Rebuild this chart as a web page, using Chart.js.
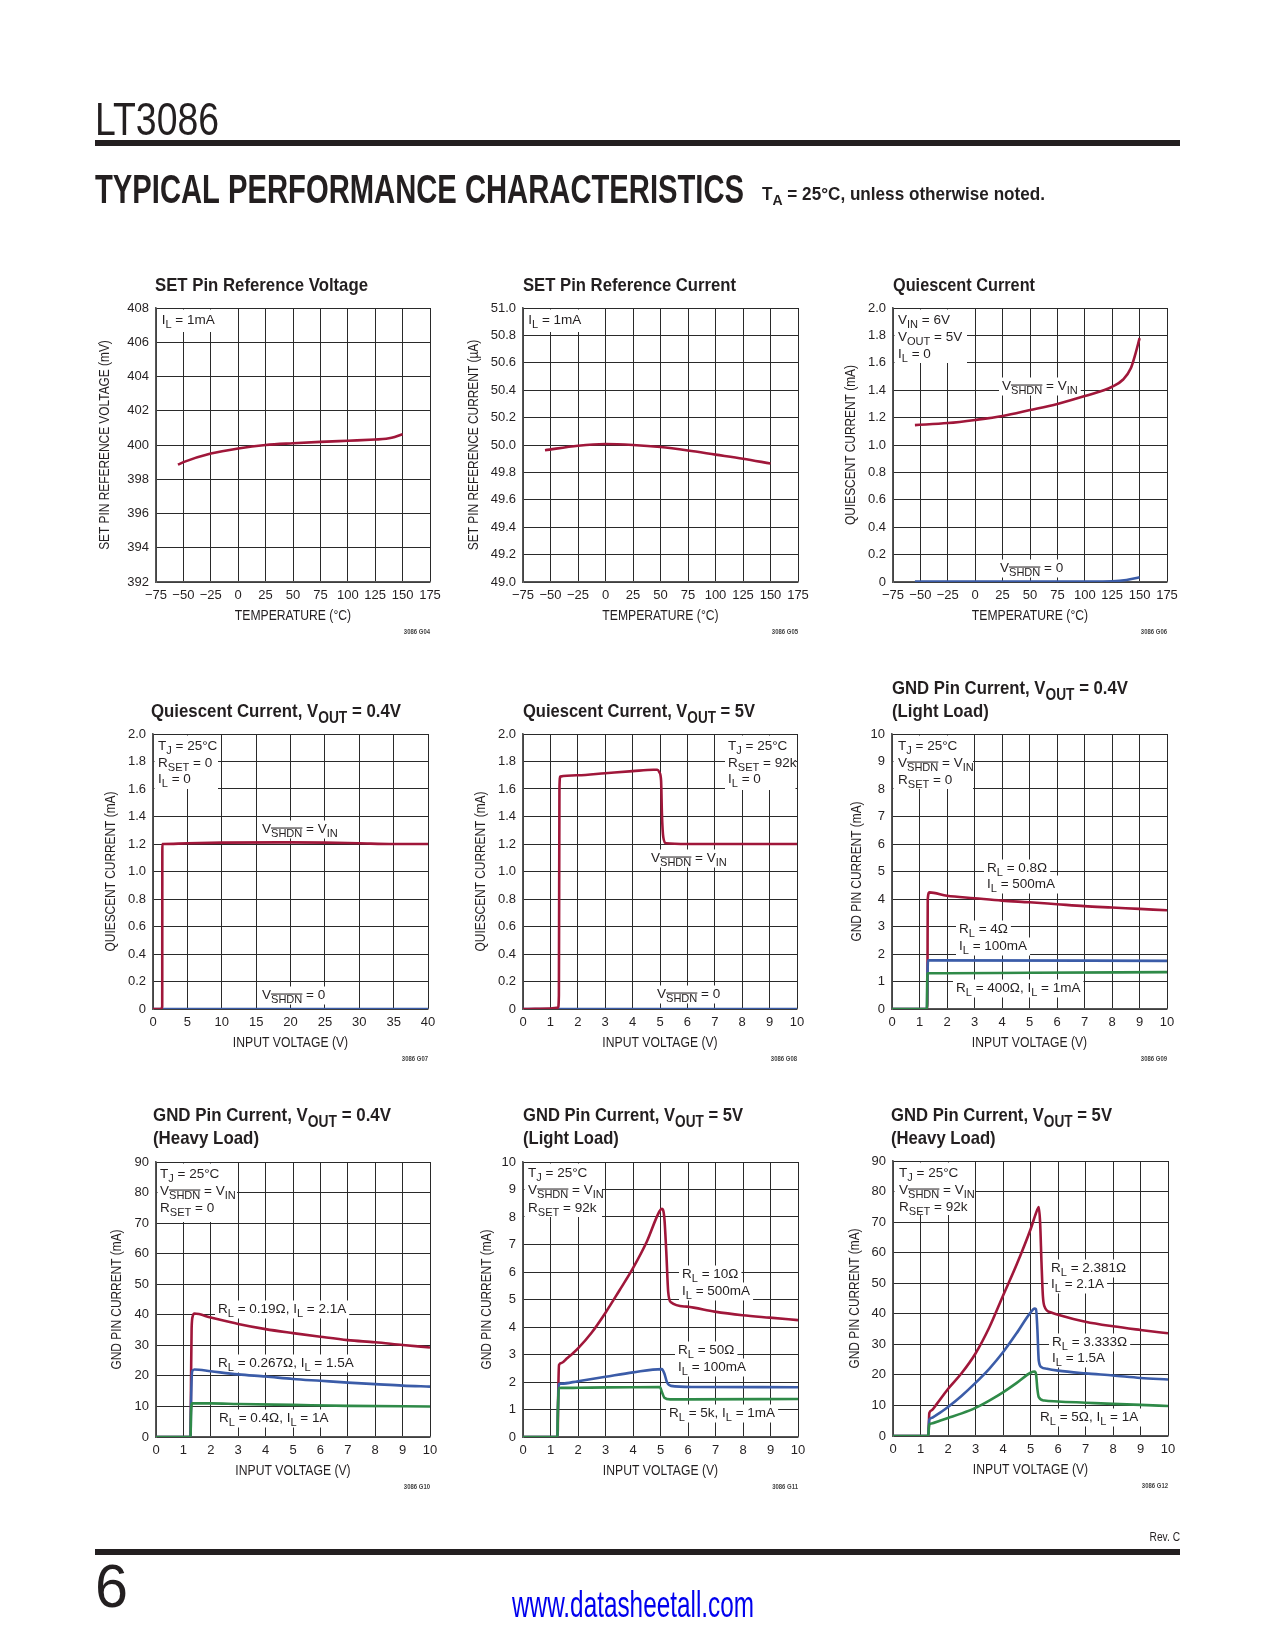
<!DOCTYPE html>
<html>
<head>
<meta charset="utf-8">
<script src="https://cdn.jsdelivr.net/npm/chart.js@4.4.0/dist/chart.umd.min.js"></script>
<style>
  html, body { margin: 0; padding: 0; background: #fff; }
  #wrap { position: relative; width: 1275px; height: 1650px; overflow: hidden; }
  canvas { position: absolute; }
</style>
</head>
<body>
<div id="wrap"><canvas id="page" width="1275" height="1650" style="left:0;top:0"></canvas></div>
<script>
// ---- tick values ----
const tempTicks = [-75, -50, -25, 0, 25, 50, 75, 100, 125, 150, 175];
const vin40Ticks = [0, 5, 10, 15, 20, 25, 30, 35, 40];
const vin10Ticks = [0, 1, 2, 3, 4, 5, 6, 7, 8, 9, 10];
const vrefTicks = [392, 394, 396, 398, 400, 402, 404, 406, 408];
const isetTicks = [49.0, 49.2, 49.4, 49.6, 49.8, 50.0, 50.2, 50.4, 50.6, 50.8, 51.0];
const iqTicks = [0, 0.2, 0.4, 0.6, 0.8, 1.0, 1.2, 1.4, 1.6, 1.8, 2.0];
const gnd10Ticks = [0, 1, 2, 3, 4, 5, 6, 7, 8, 9, 10];
const gnd90Ticks = [0, 10, 20, 30, 40, 50, 60, 70, 80, 90];

// ---- G04 SET pin reference voltage ----
const g04Temp = [-55, -50, -25, 0, 25, 50, 75, 100, 125, 135, 140, 150];
const g04Vref = [398.85, 399.0, 399.5, 399.8, 400.0, 400.1, 400.18, 400.25, 400.32, 400.36, 400.42, 400.63];

// ---- G05 SET pin reference current ----
const g05Temp = [-55, -25, 0, 25, 50, 75, 100, 125, 150];
const g05Iset = [49.962, 49.995, 50.007, 50.0, 49.985, 49.96, 49.93, 49.9, 49.865];

// ---- G06 quiescent current vs temperature ----
const g06TempOn = [-55, -25, 0, 25, 50, 75, 100, 125, 135, 142, 146, 150];
const g06IqOn = [1.145, 1.16, 1.183, 1.212, 1.255, 1.30, 1.357, 1.425, 1.478, 1.56, 1.66, 1.78];
const g06TempOff = [-55, 0, 50, 100, 125, 138, 150];
const g06IqOff = [0.003, 0.003, 0.003, 0.004, 0.006, 0.015, 0.035];

// ---- G07 quiescent current, VOUT = 0.4V ----
const g07VinOn = [0, 1.2, 1.34, 1.36, 1.5, 5, 10, 20, 25, 30, 35, 40];
const g07IqOn = [0, 0, 0.02, 1.2, 1.2, 1.205, 1.21, 1.212, 1.21, 1.205, 1.2, 1.2];
const g07VinOff = [0, 40];
const g07IqOff = [0, 0];

// ---- G08 quiescent current, VOUT = 5V ----
const g08VinOn = [0, 1.0, 1.28, 1.31, 1.33, 1.36, 2, 3, 4, 4.76, 4.9, 4.98, 5.04, 5.07, 5.12, 5.22, 6, 8, 10];
const g08IqOn = [0, 0.003, 0.01, 0.1, 1.6, 1.69, 1.70, 1.715, 1.73, 1.74, 1.74, 1.72, 1.66, 1.42, 1.25, 1.205, 1.2, 1.2, 1.2];
const g08VinOff = [0, 10];
const g08IqOff = [0, 0];

// ---- G09 GND pin current, VOUT = 0.4V, light load ----
const g09Vin500 = [0, 1.28, 1.29, 1.30, 1.36, 2, 3, 4, 5, 6, 7, 8, 9, 10];
const g09I500 = [0, 0, 1.0, 4.0, 4.24, 4.12, 4.03, 3.94, 3.88, 3.81, 3.74, 3.69, 3.64, 3.59];
const g09Vin100 = [0, 1.27, 1.29, 1.31, 1.4, 10];
const g09I100 = [0, 0, 1.2, 1.77, 1.77, 1.75];
const g09Vin1 = [0, 1.27, 1.28, 1.30, 2, 5, 10];
const g09I1 = [0, 0, 1.0, 1.3, 1.3, 1.32, 1.34];

// ---- G10 GND pin current, VOUT = 0.4V, heavy load ----
const g10Vin21 = [0, 1.26, 1.28, 1.30, 1.34, 1.4, 2, 3, 4, 5, 6, 7, 8, 9, 10];
const g10I21 = [0, 0, 20, 35.5, 39.5, 40.4, 39.1, 37, 35.3, 34, 32.8, 31.7, 31.0, 30.1, 29.3];
const g10Vin15 = [0, 1.26, 1.28, 1.32, 1.4, 2, 3, 4, 5, 6, 7, 8, 9, 10];
const g10I15 = [0, 0, 12, 21.5, 22.1, 21.5, 20.5, 19.8, 19.0, 18.4, 17.8, 17.3, 16.8, 16.5];
const g10Vin10 = [0, 1.26, 1.28, 1.32, 2, 3, 5, 7, 10];
const g10I10 = [0, 0, 8, 11, 11, 10.8, 10.5, 10.2, 10];

// ---- G11 GND pin current, VOUT = 5V, light load ----
const g11Vin500 = [0, 1.26, 1.28, 1.31, 1.4, 1.6, 1.8, 2.0, 2.5, 3.0, 3.5, 4.0, 4.5, 4.96, 5.05, 5.14, 5.21, 5.28, 5.38, 5.96, 6.97, 7.98, 8.97, 10];
const g11I500 = [0, 0, 1.5, 2.62, 2.69, 2.86, 3.03, 3.22, 3.8, 4.52, 5.32, 6.14, 7.1, 8.2, 8.3, 7.96, 6.74, 5.28, 4.9, 4.74, 4.56, 4.43, 4.34, 4.25];
const g11Vin100 = [0, 1.25, 1.27, 1.3, 1.4, 2, 3, 4, 5.05, 5.14, 5.24, 5.38, 6.2, 10];
const g11I100 = [0, 0, 1.0, 1.92, 1.94, 2.03, 2.19, 2.35, 2.47, 2.31, 1.98, 1.86, 1.82, 1.81];
const g11Vin1 = [0, 1.25, 1.27, 1.3, 1.4, 2, 4.98, 5.05, 5.14, 5.35, 6, 10];
const g11I1 = [0, 0, 1.0, 1.78, 1.785, 1.79, 1.82, 1.64, 1.43, 1.37, 1.37, 1.38];

// ---- G12 GND pin current, VOUT = 5V, heavy load ----
const g12Vin21 = [0, 1.28, 1.30, 1.32, 1.4, 1.6, 1.8, 2, 2.5, 3, 3.5, 4, 4.5, 5, 5.25, 5.3, 5.35, 5.4, 5.45, 5.5, 5.75, 6, 7, 8, 9, 10];
const g12I21 = [0, 0, 3, 7.5, 8.4, 10.6, 13.0, 15.4, 20.6, 27.0, 35.5, 45.9, 56.2, 67.6, 74.1, 74.9, 69.8, 56.7, 45.9, 42.6, 40.4, 39.7, 37.4, 35.9, 34.7, 33.6];
const g12Vin15 = [0, 1.28, 1.30, 1.32, 1.4, 1.6, 1.8, 2, 2.5, 3, 3.5, 4, 4.5, 5, 5.15, 5.2, 5.25, 5.3, 5.4, 5.6, 6, 7, 8, 9, 10];
const g12I15 = [0, 0, 3, 5.4, 5.9, 7.0, 8.2, 9.5, 13.2, 17.4, 22.0, 27.4, 33.7, 40.4, 41.7, 41.5, 35, 24.7, 22.5, 22, 21.4, 20.5, 19.8, 19, 18.5];
const g12Vin10 = [0, 1.28, 1.30, 1.32, 1.4, 1.7, 2, 2.5, 3, 3.5, 4, 4.5, 5, 5.15, 5.2, 5.25, 5.3, 5.5, 6, 7, 8, 9, 10];
const g12I10 = [0, 0, 2, 3.8, 4.1, 5.0, 5.9, 7.4, 9.2, 11.6, 14.3, 17.4, 20.7, 21.1, 20.3, 15.4, 12.7, 11.6, 11.3, 10.9, 10.5, 10.2, 9.8];

const INK = '#231f20';
const RED = '#a0173a', BLUE = '#3b5ca8', GREEN = '#2f8a48';
const SANS = '"Liberation Sans", Arial, sans-serif';
const ANN = { size: 13.5, family: SANS, weight: 'normal' };
const TTL = { size: 19, family: SANS, weight: 'bold' };
const AXT = { size: 14.5, family: SANS, weight: 'normal' };
const PADL = 70, PADT = 70, PADR = 30, PADB = 65;

// rich text: _{..} = subscript, _{!..} = subscript with overline
function parseRich(s) {
  const segs = [], re = /_\{(!?)([^}]*)\}/g;
  let last = 0, m;
  while ((m = re.exec(s))) {
    if (m.index > last) segs.push({ t: s.slice(last, m.index) });
    segs.push({ t: m[2], sub: true, bar: m[1] === '!' });
    last = re.lastIndex;
  }
  if (last < s.length) segs.push({ t: s.slice(last) });
  return segs;
}
function segFont(f, g) {
  return `${f.weight} ${g.sub ? f.size * 0.82 : f.size}px ${f.family}`;
}
function richWidth(ctx, s, f) {
  let w = 0;
  parseRich(s).forEach(g => { ctx.font = segFont(f, g); w += ctx.measureText(g.t).width; });
  return w;
}
function drawRich(ctx, s, x, y, f, sx) {
  ctx.save();
  ctx.translate(x, y);
  ctx.scale(sx || 1, 1);
  ctx.textAlign = 'left';
  ctx.textBaseline = 'alphabetic';
  let cx = 0;
  parseRich(s).forEach(g => {
    ctx.font = segFont(f, g);
    const w = ctx.measureText(g.t).width;
    const yy = g.sub ? f.size * 0.3 : 0;
    ctx.fillText(g.t, cx, yy);
    if (g.bar) ctx.fillRect(cx, yy - f.size * 0.82 * 0.86, w, Math.max(1, f.size * 0.075));
    cx += w;
  });
  ctx.restore();
}

function pts(xs, ys) { return xs.map((x, i) => ({ x: x, y: ys[i] })); }
function fmt(kind) {
  return v => {
    if (kind === 'minus') return v < 0 ? '\u2212' + (-v) : String(v);
    if (kind === 'fix1') return v.toFixed(1);
    if (kind === 'fix1z') return v === 0 ? '0' : v.toFixed(1);
    return String(v);
  };
}

const defs = [
  { code: '3086 G04', box: [156, 308, 430, 582],
    x: { min: -75, max: 175, ticks: tempTicks, fmt: 'minus', title: 'TEMPERATURE (°C)' },
    y: { min: 392, max: 408, ticks: vrefTicks, fmt: 'int', title: 'SET PIN REFERENCE VOLTAGE (mV)', gap: 51 },
    title: { x: 155, w: 213, lines: ['SET Pin Reference Voltage'], y: [291] },
    note: { lines: ['I_{L} = 1mA'], x: 161.7, y: [324], right: 215, bottom: 332 },
    labels: [],
    series: [[g04Temp, g04Vref, RED]] },
  { code: '3086 G05', box: [523, 308, 798, 582],
    x: { min: -75, max: 175, ticks: tempTicks, fmt: 'minus', title: 'TEMPERATURE (°C)' },
    y: { min: 49, max: 51, ticks: isetTicks, fmt: 'fix1', title: 'SET PIN REFERENCE CURRENT (µA)', gap: 49 },
    title: { x: 523, w: 213, lines: ['SET Pin Reference Current'], y: [291] },
    note: { lines: ['I_{L} = 1mA'], x: 528.3, y: [324], right: 580, bottom: 332 },
    labels: [],
    series: [[g05Temp, g05Iset, RED]] },
  { code: '3086 G06', box: [893, 308, 1167, 582],
    x: { min: -75, max: 175, ticks: tempTicks, fmt: 'minus', title: 'TEMPERATURE (°C)' },
    y: { min: 0, max: 2, ticks: iqTicks, fmt: 'fix1z', title: 'QUIESCENT CURRENT (mA)', gap: 42 },
    title: { x: 893, w: 142, lines: ['Quiescent Current'], y: [291] },
    note: { lines: ['V_{IN} = 6V', 'V_{OUT} = 5V', 'I_{L} = 0'], x: 898, y: [324, 341, 358], right: 967, bottom: 363 },
    labels: [{ lines: ['V_{!SHDN} = V_{IN}'], x: 1002, y: [390] }, { lines: ['V_{!SHDN} = 0'], x: 1000, y: [572] }],
    series: [[g06TempOn, g06IqOn, RED], [g06TempOff, g06IqOff, BLUE]] },
  { code: '3086 G07', box: [153, 734, 428, 1009],
    x: { min: 0, max: 40, ticks: vin40Ticks, fmt: 'int', title: 'INPUT VOLTAGE (V)' },
    y: { min: 0, max: 2, ticks: iqTicks, fmt: 'fix1z', title: 'QUIESCENT CURRENT (mA)', gap: 42 },
    title: { x: 151, w: 250, lines: ['Quiescent Current, V_{OUT} = 0.4V'], y: [717] },
    note: { lines: ['T_{J} = 25°C', 'R_{SET} = 0', 'I_{L} = 0'], x: 158, y: [750, 767, 783], right: 218, bottom: 789 },
    labels: [{ lines: ['V_{!SHDN} = V_{IN}'], x: 262, y: [833] }, { lines: ['V_{!SHDN} = 0'], x: 262, y: [999] }],
    series: [[g07VinOn, g07IqOn, RED], [g07VinOff, g07IqOff, BLUE]] },
  { code: '3086 G08', box: [523, 734, 797, 1009],
    x: { min: 0, max: 10, ticks: vin10Ticks, fmt: 'int', title: 'INPUT VOLTAGE (V)' },
    y: { min: 0, max: 2, ticks: iqTicks, fmt: 'fix1z', title: 'QUIESCENT CURRENT (mA)', gap: 42 },
    title: { x: 523, w: 232, lines: ['Quiescent Current, V_{OUT} = 5V'], y: [717] },
    note: { side: 'right', lines: ['T_{J} = 25°C', 'R_{SET} = 92k', 'I_{L} = 0'], x: 728, y: [750, 767, 783], left: 725, bottom: 790 },
    labels: [{ lines: ['V_{!SHDN} = V_{IN}'], x: 651, y: [862] }, { lines: ['V_{!SHDN} = 0'], x: 657, y: [998] }],
    series: [[g08VinOn, g08IqOn, RED], [g08VinOff, g08IqOff, BLUE]] },
  { code: '3086 G09', box: [892, 734, 1167, 1009],
    x: { min: 0, max: 10, ticks: vin10Ticks, fmt: 'int', title: 'INPUT VOLTAGE (V)' },
    y: { min: 0, max: 10, ticks: gnd10Ticks, fmt: 'int', title: 'GND PIN CURRENT (mA)', gap: 35 },
    title: { x: 892, w: 236, lines: ['GND Pin Current, V_{OUT} = 0.4V', '(Light Load)'], y: [694, 717] },
    note: { lines: ['T_{J} = 25°C', 'V_{!SHDN} = V_{IN}', 'R_{SET} = 0'], x: 898, y: [750, 767, 784], right: 973, bottom: 789 },
    labels: [{ lines: ['R_{L} = 0.8Ω', 'I_{L} = 500mA'], x: 987, y: [872, 888] },
             { lines: ['R_{L} = 4Ω', 'I_{L} = 100mA'], x: 959, y: [933, 950] },
             { lines: ['R_{L} = 400Ω, I_{L} = 1mA'], x: 956, y: [992] }],
    series: [[g09Vin1, g09I1, GREEN], [g09Vin100, g09I100, BLUE], [g09Vin500, g09I500, RED]] },
  { code: '3086 G10', box: [156, 1162, 430, 1437],
    x: { min: 0, max: 10, ticks: vin10Ticks, fmt: 'int', title: 'INPUT VOLTAGE (V)' },
    y: { min: 0, max: 90, ticks: gnd90Ticks, fmt: 'int', title: 'GND PIN CURRENT (mA)', gap: 39 },
    title: { x: 153, w: 238, lines: ['GND Pin Current, V_{OUT} = 0.4V', '(Heavy Load)'], y: [1121, 1144] },
    note: { lines: ['T_{J} = 25°C', 'V_{!SHDN} = V_{IN}', 'R_{SET} = 0'], x: 160, y: [1178, 1195, 1212], right: 237, bottom: 1222 },
    labels: [{ lines: ['R_{L} = 0.19Ω, I_{L} = 2.1A'], x: 218, y: [1313] },
             { lines: ['R_{L} = 0.267Ω, I_{L} = 1.5A'], x: 218, y: [1367] },
             { lines: ['R_{L} = 0.4Ω, I_{L} = 1A'], x: 219, y: [1422] }],
    series: [[g10Vin10, g10I10, GREEN], [g10Vin15, g10I15, BLUE], [g10Vin21, g10I21, RED]] },
  { code: '3086 G11', box: [523, 1162, 798, 1437],
    x: { min: 0, max: 10, ticks: vin10Ticks, fmt: 'int', title: 'INPUT VOLTAGE (V)' },
    y: { min: 0, max: 10, ticks: gnd10Ticks, fmt: 'int', title: 'GND PIN CURRENT (mA)', gap: 36 },
    title: { x: 523, w: 220, lines: ['GND Pin Current, V_{OUT} = 5V', '(Light Load)'], y: [1121, 1144] },
    note: { lines: ['T_{J} = 25°C', 'V_{!SHDN} = V_{IN}', 'R_{SET} = 92k'], x: 528, y: [1177, 1194, 1212], right: 602, bottom: 1217 },
    labels: [{ lines: ['R_{L} = 10Ω', 'I_{L} = 500mA'], x: 682, y: [1278, 1295] },
             { lines: ['R_{L} = 50Ω', 'I_{L} = 100mA'], x: 678, y: [1354, 1371] },
             { lines: ['R_{L} = 5k, I_{L} = 1mA'], x: 669, y: [1417] }],
    series: [[g11Vin1, g11I1, GREEN], [g11Vin100, g11I100, BLUE], [g11Vin500, g11I500, RED]] },
  { code: '3086 G12', box: [893, 1161, 1168, 1436],
    x: { min: 0, max: 10, ticks: vin10Ticks, fmt: 'int', title: 'INPUT VOLTAGE (V)' },
    y: { min: 0, max: 90, ticks: gnd90Ticks, fmt: 'int', title: 'GND PIN CURRENT (mA)', gap: 38 },
    title: { x: 891, w: 221, lines: ['GND Pin Current, V_{OUT} = 5V', '(Heavy Load)'], y: [1121, 1144] },
    note: { lines: ['T_{J} = 25°C', 'V_{!SHDN} = V_{IN}', 'R_{SET} = 92k'], x: 899, y: [1177, 1194, 1211], right: 975, bottom: 1215 },
    labels: [{ lines: ['R_{L} = 2.381Ω', 'I_{L} = 2.1A'], x: 1051, y: [1272, 1288] },
             { lines: ['R_{L} = 3.333Ω', 'I_{L} = 1.5A'], x: 1052, y: [1346, 1362] },
             { lines: ['R_{L} = 5Ω, I_{L} = 1A'], x: 1040, y: [1421] }],
    series: [[g12Vin10, g12I10, GREEN], [g12Vin15, g12I15, BLUE], [g12Vin21, g12I21, RED]] }
];

function decor(d) {
  const ox = d.box[0] - PADL, oy = d.box[1] - PADT;
  return {
    id: 'decor',
    beforeDatasetsDraw(chart) {
      const ctx = chart.ctx, a = chart.chartArea;
      ctx.save();
      ctx.fillStyle = '#fff';
      const n = d.note;
      const L = n.side === 'right' ? n.left - ox : a.left + 1.5;
      const R = n.side === 'right' ? a.right - 1.5 : n.right - ox;
      ctx.fillRect(L, a.top + 1.5, R - L, n.bottom - oy - a.top - 1.5);
      d.labels.forEach(lb => lb.lines.forEach((t, i) => {
        const w = richWidth(ctx, t, ANN);
        ctx.fillRect(lb.x - ox - 3, lb.y[i] - oy - 12.5, w + 6, 18);
      }));
      ctx.restore();
    },
    afterDraw(chart) {
      const ctx = chart.ctx, a = chart.chartArea;
      ctx.save();
      ctx.fillStyle = INK;
      // chart title, squeezed to the condensed width of the original
      const sx = d.title.w / richWidth(ctx, d.title.lines[0], TTL);
      d.title.lines.forEach((t, i) => drawRich(ctx, t, d.title.x - ox, d.title.y[i] - oy, TTL, sx));
      d.note.lines.forEach((t, i) => drawRich(ctx, t, d.note.x - ox, d.note.y[i] - oy, ANN));
      d.labels.forEach(lb => lb.lines.forEach((t, i) => drawRich(ctx, t, lb.x - ox, lb.y[i] - oy, ANN)));
      // axis titles (condensed)
      ctx.font = `${AXT.size}px ${AXT.family}`;
      ctx.textAlign = 'center';
      ctx.textBaseline = 'middle';
      ctx.save();
      ctx.translate((a.left + a.right) / 2, a.bottom + 34);
      ctx.scale(0.84, 1);
      ctx.fillText(d.x.title, 0, 0);
      ctx.restore();
      ctx.save();
      ctx.translate(a.left - d.y.gap, (a.top + a.bottom) / 2);
      ctx.rotate(-Math.PI / 2);
      ctx.scale(0.82, 1);
      ctx.fillText(d.y.title, 0, 0);
      ctx.restore();
      ctx.font = 'bold 7px ' + SANS;
      ctx.textAlign = 'right';
      ctx.textBaseline = 'alphabetic';
      ctx.fillStyle = '#444';
      ctx.save();
      ctx.translate(d.box[2] - ox, d.box[3] + 52 - oy);
      ctx.scale(0.85, 1);
      ctx.fillText(d.code, 0, 0);
      ctx.restore();
      ctx.restore();
    }
  };
}

function axis(ax, isX) {
  return {
    type: 'linear', min: ax.min, max: ax.max,
    afterBuildTicks: s => { s.ticks = ax.ticks.map(v => ({ value: v })); },
    afterFit: s => { if (isX) s.height = 55; else s.width = PADL; },
    ticks: { autoSkip: false, maxRotation: 0, padding: isX ? 6 : 7, color: INK,
             font: { family: SANS, size: 13 }, callback: fmt(ax.fmt) },
    grid: { color: '#2a2a2a', lineWidth: 1, drawTicks: false },
    border: { color: '#555', width: 1.6 },
    title: { display: false }
  };
}

const wrap = document.getElementById('wrap');
defs.forEach(d => {
  const [l, t, r, b] = d.box;
  const cv = document.createElement('canvas');
  const w = (r - l) + PADL + PADR, h = (b - t) + PADT + PADB;
  cv.width = w; cv.height = h;
  cv.style.left = (l - PADL) + 'px'; cv.style.top = (t - PADT) + 'px';
  cv.style.width = w + 'px'; cv.style.height = h + 'px';
  wrap.appendChild(cv);
  new Chart(cv.getContext('2d'), {
    type: 'line',
    data: {
      datasets: d.series.map(s => ({
        data: pts(s[0], s[1]), borderColor: s[2], borderWidth: 2.6,
        pointRadius: 0, fill: false, cubicInterpolationMode: 'monotone'
      }))
    },
    options: {
      responsive: false, animation: false, devicePixelRatio: 1,
      layout: { padding: { left: 0, top: PADT, right: PADR, bottom: 10 } },
      plugins: { legend: { display: false }, tooltip: { enabled: false } },
      scales: { x: axis(d.x, true), y: axis(d.y, false) }
    },
    plugins: [decor(d)]
  });
});

// ---- page header / footer ----
const pg = document.getElementById('page').getContext('2d');
function fitText(text, x, y, font, w, color) {
  pg.save();
  pg.font = font; pg.fillStyle = color; pg.textBaseline = 'alphabetic';
  const m = pg.measureText(text).width;
  pg.translate(x, y); pg.scale(w / m, 1); pg.fillText(text, 0, 0);
  pg.restore();
}
fitText('LT3086', 95, 135, '46px ' + SANS, 124, INK);
pg.fillStyle = INK;
pg.fillRect(95, 140, 1085, 6);
fitText('TYPICAL PERFORMANCE CHARACTERISTICS', 95, 203, 'bold 40px ' + SANS, 649, INK);
(function () {
  const f = { size: 18, family: SANS, weight: 'bold' };
  const s = 'T_{A} = 25°C, unless otherwise noted.';
  pg.fillStyle = INK;
  drawRich(pg, s, 762, 200, f, 283 / richWidth(pg, s, f));
})();
pg.font = '12px ' + SANS; pg.textAlign = 'right'; pg.fillStyle = INK;
pg.save(); pg.translate(1180, 1541); pg.scale(0.85, 1); pg.fillText('Rev. C', 0, 0); pg.restore();
pg.textAlign = 'left';
pg.fillRect(95, 1549, 1085, 6);
fitText('6', 95, 1607, '62px ' + SANS, 33, INK);
fitText('www.datasheetall.com', 512, 1617, '36px ' + SANS, 242, '#0000ee');
</script>
</body>
</html>
